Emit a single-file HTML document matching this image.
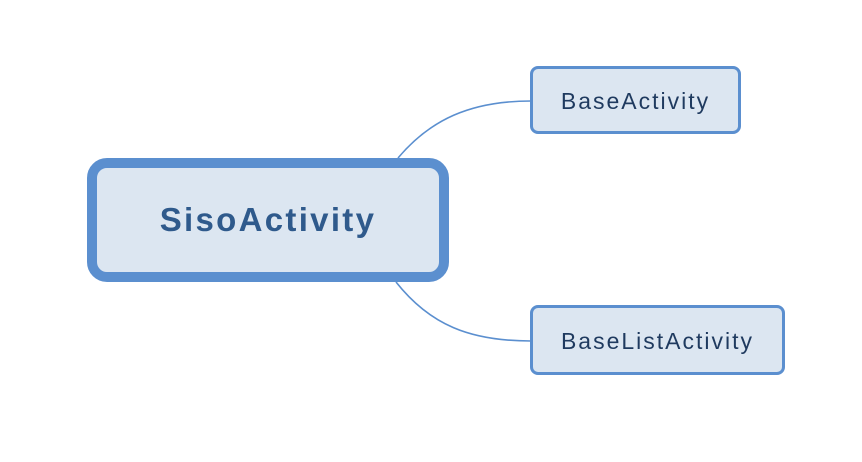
<!DOCTYPE html>
<html><head><style>
body{margin:0;width:862px;height:462px;background:#fff;position:relative;overflow:hidden;font-family:"Liberation Sans",sans-serif}
.b{position:absolute;box-sizing:border-box;background:#dce6f1;border:3px solid #5b8fcf;border-radius:8px;display:flex;align-items:center;justify-content:center;color:#1f3a5f;font-size:23px;letter-spacing:2px;padding-top:3px}
</style></head><body>
<svg width="862" height="462" style="position:absolute;left:0;top:0">
<path d="M398,158 C430,120 470,101 531,101" fill="none" stroke="#5b8fcf" stroke-width="1.6"/>
<path d="M396,282 C430,325 470,341 531,341" fill="none" stroke="#5b8fcf" stroke-width="1.6"/>
</svg>
<div class="b" style="left:87px;top:158px;width:362px;height:124px;border-width:10px;border-radius:20px;font-size:33px;letter-spacing:2.3px;font-weight:bold;color:#2f5a8c;padding-top:0">SisoActivity</div>
<div class="b" style="left:530px;top:66px;width:211px;height:68px">BaseActivity</div>
<div class="b" style="left:530px;top:305px;width:255px;height:70px">BaseListActivity</div>
</body></html>
